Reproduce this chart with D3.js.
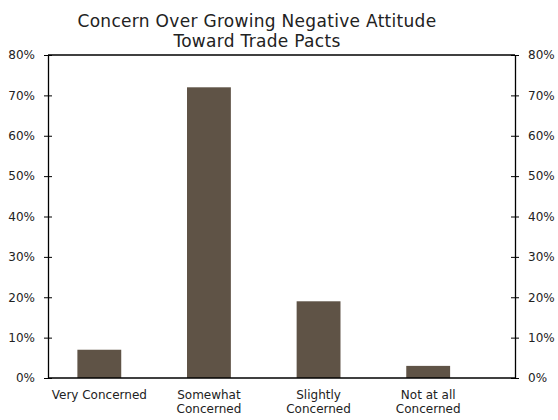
<!DOCTYPE html>
<html lang="en">
<head>
<meta charset="UTF-8">
<script src="https://d3js.org/d3.v7.min.js"></script>
<style>
  body { margin: 0; background: #fff; }
  text { font-family: "DejaVu Sans", Verdana, sans-serif; fill: #222; }
</style>
</head>
<body>
<svg id="chart" width="558" height="420"></svg>
<script>
const titleLines = ["Concern Over Growing Negative Attitude", "Toward Trade Pacts"];
const categories = [["Very Concerned"], ["Somewhat", "Concerned"], ["Slightly", "Concerned"], ["Not at all", "Concerned"]];
const values = [7, 72, 19, 3];
const yTicks = [0, 10, 20, 30, 40, 50, 60, 70, 80];

const svg = d3.select("#chart");
const plotL = 48, plotR = 515, plotT = 55, plotB = 378;

const x = d3.scaleBand()
    .domain(categories.map(c => c.join(" ")))
    .range([44.5, 483])
    .paddingInner(0.6)
    .paddingOuter(0.3);

const y = d3.scaleLinear().domain([0, 80]).range([plotB, plotT]);

// title
svg.append("text")
    .attr("x", 257).attr("y", 27)
    .attr("text-anchor", "middle")
    .style("font-size", "17px")
    .style("letter-spacing", "0.3px")
    .selectAll("tspan").data(titleLines).enter()
    .append("tspan")
    .attr("x", 257)
    .attr("dy", (d, i) => i ? 19.5 : 0)
    .text(d => d);

// bars
svg.selectAll("rect.bar").data(values).enter()
    .append("rect")
    .attr("class", "bar")
    .attr("x", (d, i) => x(categories[i].join(" ")))
    .attr("width", x.bandwidth())
    .attr("y", d => y(d))
    .attr("height", d => y(0) - y(d))
    .attr("fill", "#5f5346");

// axes
const fmt = d => d + "%";
const leftAxis = svg.append("g")
    .attr("transform", "translate(" + plotL + ",0)")
    .call(d3.axisLeft(y).tickValues(yTicks).tickFormat(fmt).tickSizeInner(4).tickSizeOuter(0).tickPadding(9));
const rightAxis = svg.append("g")
    .attr("transform", "translate(" + plotR + ",0)")
    .call(d3.axisRight(y).tickValues(yTicks).tickFormat(fmt).tickSizeInner(4).tickSizeOuter(0).tickPadding(9));

[leftAxis, rightAxis].forEach(g => {
    g.select(".domain").attr("stroke", "#000").attr("stroke-width", 1.3);
    g.selectAll(".tick text").style("font-size", "12px").attr("fill", "#222");
});
// ticks cross the axis
leftAxis.selectAll(".tick line").attr("x1", 4).attr("x2", -4).attr("stroke", "#000");
rightAxis.selectAll(".tick line").attr("x1", -4).attr("x2", 4).attr("stroke", "#000");
leftAxis.selectAll(".tick text").attr("x", -13);
rightAxis.selectAll(".tick text").attr("x", 13);

// top and bottom frame lines
svg.append("line")
    .attr("x1", plotL).attr("x2", plotR)
    .attr("y1", y(80)).attr("y2", y(80))
    .attr("stroke", "#000").attr("stroke-width", 1.3);
svg.append("line")
    .attr("x1", plotL).attr("x2", plotR)
    .attr("y1", y(0)).attr("y2", y(0))
    .attr("stroke", "#000").attr("stroke-width", 1.3);

// category labels
const labels = svg.append("g");
categories.forEach(c => {
    const cx = x(c.join(" ")) + x.bandwidth() / 2;
    const t = labels.append("text")
        .attr("text-anchor", "middle")
        .style("font-size", "12px");
    c.forEach((line, i) => {
        t.append("tspan")
            .attr("x", cx)
            .attr("y", 399 + i * 14)
            .text(line);
    });
});
</script>
</body>
</html>
